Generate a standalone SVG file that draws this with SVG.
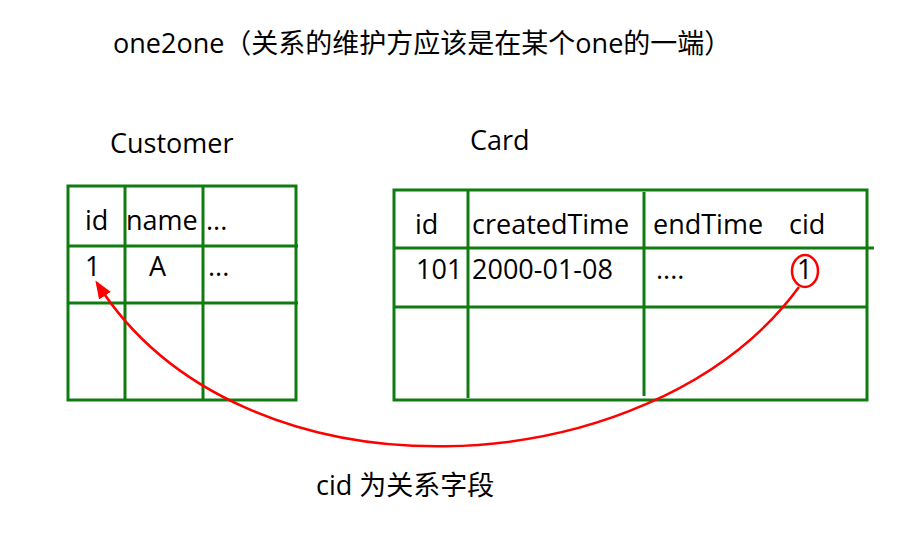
<svg xmlns="http://www.w3.org/2000/svg" width="919" height="543" viewBox="0 0 919 543">
<defs>
<style>
text{font-family:"Open Sans","Noto Sans CJK SC",sans-serif;font-size:27px;fill:#000}
.g{stroke:#107c10;stroke-width:3;fill:none}
.r{stroke:#f00;stroke-width:2.5;fill:none}
</style>
<marker id="ah" markerWidth="18" markerHeight="14" refX="15" refY="7" orient="auto" markerUnits="userSpaceOnUse" viewBox="0 0 18 14">
<path d="M0,0 L18,7 L0,14 Z" fill="#f00"/>
</marker>
</defs>
<rect width="919" height="543" fill="#fff"/>
<text x="113" y="53">one2one（关系的维护方应该是在某个one的一端）</text>
<g id="customer">
<text x="110" y="153">Customer</text>
<rect class="g" x="68" y="186" width="228" height="214"/>
<line class="g" x1="125" y1="186" x2="125" y2="400"/>
<line class="g" x1="203" y1="186" x2="203" y2="400"/>
<line class="g" x1="68" y1="246" x2="298" y2="246"/>
<line class="g" x1="68" y1="303" x2="298" y2="303"/>
<text x="85" y="230">id</text>
<text x="126" y="230">name</text>
<text x="206" y="230">...</text>
<text x="85" y="276">1</text>
<text x="149" y="276">A</text>
<text x="208" y="276">...</text>
</g>
<g id="card">
<text x="470" y="150">Card</text>
<rect class="g" x="394" y="190" width="473" height="210"/>
<line class="g" x1="468" y1="190" x2="468" y2="398"/>
<line class="g" x1="644" y1="192" x2="644" y2="396"/>
<line class="g" x1="394" y1="248" x2="874" y2="248"/>
<line class="g" x1="394" y1="307" x2="866" y2="307"/>
<text x="415" y="234">id</text>
<text x="472" y="234">createdTime</text>
<text x="653" y="234">endTime</text>
<text x="789" y="234">cid</text>
<text x="416" y="279">101</text>
<text x="472" y="279">2000-01-08</text>
<text x="656" y="279">....</text>
<text x="797" y="279">1</text>
<ellipse class="r" cx="805" cy="271" rx="13" ry="16"/>
</g>
<g id="connectors">
<path class="r" d="M799 287 C650 490 240 510 97 283" marker-end="url(#ah)"/>
</g>
<text x="316" y="495">cid 为关系字段</text>
</svg>
